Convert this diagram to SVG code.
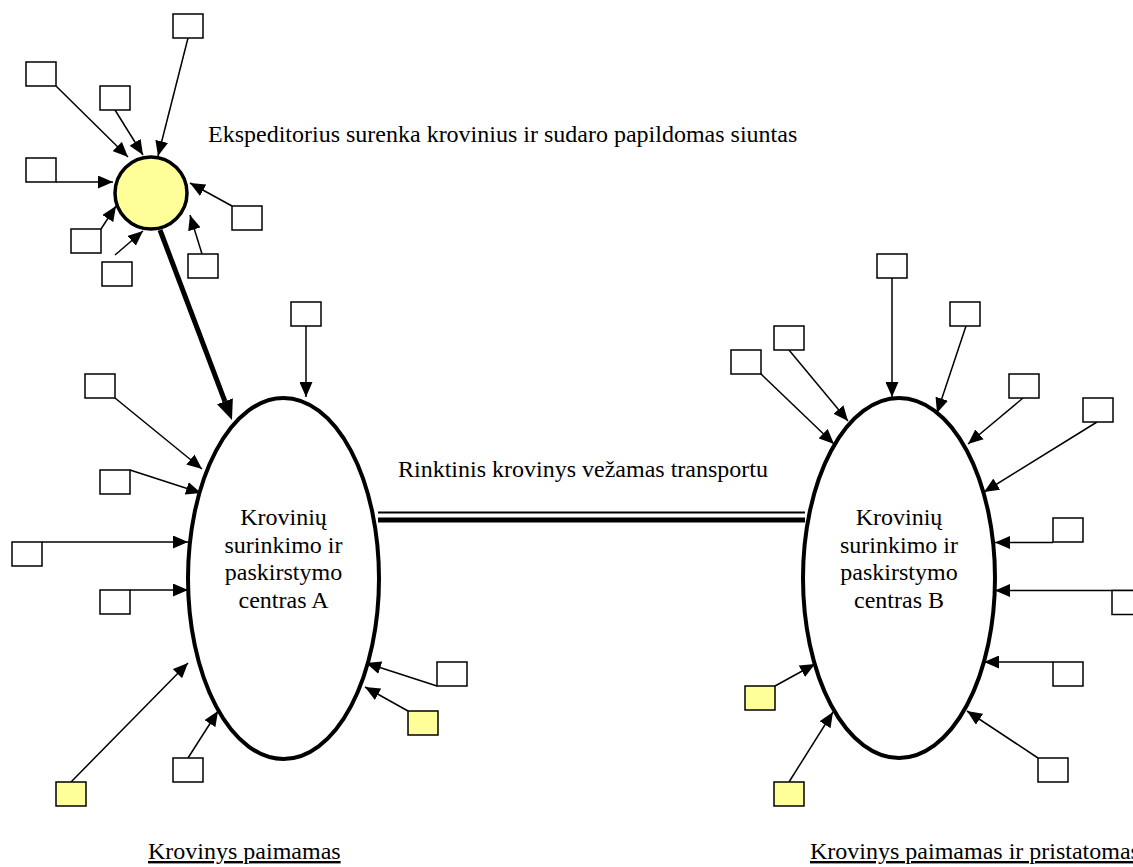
<svg xmlns="http://www.w3.org/2000/svg" width="1133" height="867" viewBox="0 0 1133 867">
  <style>
    .lbl { font-family: "Liberation Serif", "Times New Roman", serif; font-size: 24px; fill: #000; }
    .mid { text-anchor: middle; }
    .box { fill: #fff; stroke: #000; stroke-width: 1.5; }
    .box.y { fill: #ffff99; }
    .hub { fill: #fff; stroke: #000; stroke-width: 4; }
    .exp { fill: #ffff99; stroke: #000; stroke-width: 3.5; }
    .con { stroke: #000; stroke-width: 1.5; fill: none; marker-end: url(#arr); }
  </style>
  <defs>
    <marker id="arr" markerUnits="userSpaceOnUse" markerWidth="15" markerHeight="13" refX="15" refY="6.5" orient="auto">
      <path d="M0,0 L15,6.5 L0,13 z" fill="#000"/>
    </marker>
    <marker id="arrBig" markerUnits="userSpaceOnUse" markerWidth="20" markerHeight="17" refX="0" refY="8.5" orient="auto">
      <path d="M0,0 L20,8.5 L0,17 z" fill="#000"/>
    </marker>
  </defs>
  <rect width="1133" height="867" fill="#fff"/>

  <!-- connectors -->
  <g id="connectors">
    <!-- into the forwarder -->
    <line class="con" x1="188" y1="38" x2="158" y2="156"/>
    <line class="con" x1="56" y1="86" x2="128" y2="157"/>
    <line class="con" x1="115" y1="110" x2="143" y2="155"/>
    <line class="con" x1="56" y1="182" x2="113" y2="182"/>
    <line class="con" x1="232" y1="206" x2="190" y2="183"/>
    <line class="con" x1="101" y1="229" x2="116" y2="206"/>
    <line class="con" x1="115" y1="255" x2="143" y2="231"/>
    <line class="con" x1="202" y1="254" x2="190" y2="215"/>
    <!-- forwarder to centre A -->
    <line x1="160" y1="230" x2="224.9" y2="401.3" stroke="#000" stroke-width="5" marker-end="url(#arrBig)"/>
    <!-- into centre A -->
    <line class="con" x1="306" y1="326" x2="306" y2="397"/>
    <line class="con" x1="115" y1="398" x2="202" y2="469"/>
    <line class="con" x1="130" y1="470" x2="201" y2="493"/>
    <line class="con" x1="42" y1="542" x2="188" y2="542"/>
    <line class="con" x1="130" y1="590" x2="188" y2="590"/>
    <line class="con" x1="71" y1="782" x2="188" y2="663"/>
    <line class="con" x1="188" y1="758" x2="218" y2="711"/>
    <line class="con" x1="437" y1="686" x2="366" y2="663"/>
    <line class="con" x1="408" y1="711" x2="365" y2="687"/>
    <!-- into centre B -->
    <line class="con" x1="892" y1="278" x2="892" y2="397"/>
    <line class="con" x1="966" y1="326" x2="937" y2="413"/>
    <line class="con" x1="789" y1="350" x2="848" y2="421"/>
    <line class="con" x1="760" y1="373" x2="834" y2="444"/>
    <line class="con" x1="1023" y1="398" x2="968" y2="444"/>
    <line class="con" x1="1097" y1="422" x2="984" y2="492"/>
    <line class="con" x1="1053" y1="542.5" x2="995" y2="542.5"/>
    <line class="con" x1="1133" y1="590.5" x2="995" y2="590.5"/>
    <line class="con" x1="1053" y1="662" x2="984" y2="662"/>
    <line class="con" x1="1038" y1="758" x2="967" y2="711"/>
    <line class="con" x1="775" y1="686" x2="815" y2="664"/>
    <line class="con" x1="789" y1="782" x2="833" y2="712"/>
    <!-- trunk haul A to B -->
    <line x1="378" y1="512.5" x2="805" y2="512.5" stroke="#000" stroke-width="1.8"/>
    <line x1="378" y1="520" x2="805" y2="520" stroke="#000" stroke-width="5"/>
  </g>

  <!-- forwarder -->
  <g id="forwarder">
    <circle class="exp" cx="151" cy="193" r="36"/>
  </g>
  <g id="forwarder-label">
    <text class="lbl" x="208" y="142">Ekspeditorius surenka krovinius ir sudaro papildomas siuntas</text>
  </g>

  <!-- centre A -->
  <g id="centre-a">
    <ellipse class="hub" cx="283.5" cy="578.5" rx="95.5" ry="180.5"/>
    <text class="lbl mid" x="283.5" y="525">Krovinių</text>
    <text class="lbl mid" x="283.5" y="553">surinkimo ir</text>
    <text class="lbl mid" x="283.5" y="580">paskirstymo</text>
    <text class="lbl mid" x="283.5" y="608">centras A</text>
  </g>

  <!-- centre B -->
  <g id="centre-b">
    <ellipse class="hub" cx="899" cy="578" rx="96" ry="180"/>
    <text class="lbl mid" x="899" y="525">Krovinių</text>
    <text class="lbl mid" x="899" y="553">surinkimo ir</text>
    <text class="lbl mid" x="899" y="580">paskirstymo</text>
    <text class="lbl mid" x="899" y="608">centras B</text>
  </g>

  <g id="trunk-label">
    <text class="lbl" x="398" y="477">Rinktinis krovinys vežamas transportu</text>
  </g>

  <!-- consignments around the forwarder -->
  <g id="sources-forwarder">
    <rect id="f1" class="box" x="173" y="14" width="30" height="24"/>
    <rect id="f2" class="box" x="26" y="62" width="30" height="24"/>
    <rect id="f3" class="box" x="100" y="86" width="30" height="24"/>
    <rect id="f4" class="box" x="26" y="158" width="30" height="24"/>
    <rect id="f5" class="box" x="232" y="206" width="30" height="24"/>
    <rect id="f6" class="box" x="71" y="229" width="30" height="24"/>
    <rect id="f7" class="box" x="102" y="262" width="30" height="24"/>
    <rect id="f8" class="box" x="188" y="254" width="30" height="24"/>
  </g>

  <!-- consignments around centre A -->
  <g id="sources-a">
    <rect id="a1" class="box" x="291" y="302" width="30" height="24"/>
    <rect id="a2" class="box" x="85" y="374" width="30" height="24"/>
    <rect id="a3" class="box" x="100" y="470" width="30" height="24"/>
    <rect id="a4" class="box" x="12" y="542" width="30" height="24"/>
    <rect id="a5" class="box" x="100" y="590" width="30" height="24"/>
    <rect id="a6" class="box y" x="56" y="782" width="30" height="24"/>
    <rect id="a7" class="box" x="173" y="758" width="30" height="24"/>
    <rect id="a8" class="box" x="437" y="662" width="30" height="24"/>
    <rect id="a9" class="box y" x="408" y="711" width="30" height="24"/>
  </g>

  <!-- consignments around centre B -->
  <g id="sources-b">
    <rect id="b1" class="box" x="877" y="254" width="30" height="24"/>
    <rect id="b2" class="box" x="950" y="302" width="30" height="24"/>
    <rect id="b3" class="box" x="774" y="326" width="30" height="24"/>
    <rect id="b4" class="box" x="731" y="350" width="30" height="24"/>
    <rect id="b5" class="box" x="1009" y="374" width="30" height="24"/>
    <rect id="b6" class="box" x="1083" y="398" width="30" height="24"/>
    <rect id="b7" class="box" x="1053" y="518" width="30" height="24"/>
    <rect id="b8" class="box" x="1112" y="590.5" width="30" height="24"/>
    <rect id="b9" class="box" x="1053" y="662" width="30" height="24"/>
    <rect id="b10" class="box" x="1038" y="758" width="30" height="24"/>
    <rect id="b11" class="box y" x="745" y="686" width="30" height="24"/>
    <rect id="b12" class="box y" x="774" y="782" width="30" height="24"/>
  </g>

  <!-- captions -->
  <g id="captions">
    <text class="lbl" x="148" y="859" text-decoration="underline">Krovinys paimamas</text>
    <text class="lbl" x="810" y="859" text-decoration="underline">Krovinys paimamas ir pristatomas</text>
  </g>
</svg>
